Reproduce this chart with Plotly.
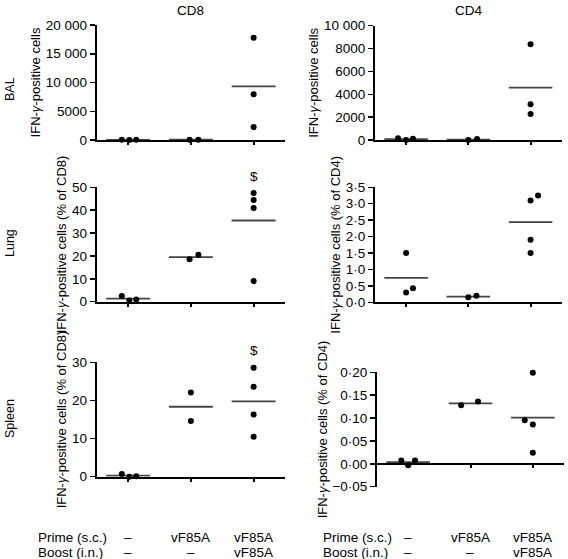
import numpy as np
import plotly.graph_objects as go

# ---------------- data ----------------
columns = ["CD8", "CD4"]
rows = ["BAL", "Lung", "Spleen"]
prime_labels = ["–", "vF85A", "vF85A"]
boost_labels = ["–", "–", "vF85A"]

bal_cd8 = [[60, 0, 50], [40, 60], [17800, 7950, 2250]]
bal_cd4 = [[150, 0, 100], [0, 80], [8370, 3120, 2270]]
lung_cd8 = [[2.5, 0.5, 1.0], [18.5, 20.5], [47.5, 44.5, 41.0, 9.0]]
lung_cd4 = [[1.5, 0.3, 0.43], [0.15, 0.2], [3.25, 3.1, 1.9, 1.5]]
spleen_cd8 = [[0.7, 0.0, 0.1], [22.1, 14.6], [28.6, 23.6, 16.3, 10.5]]
spleen_cd4 = [[0.007, -0.003, 0.007], [0.128, 0.136], [0.199, 0.095, 0.086, 0.024]]

ticks_bal_cd8 = [0, 5000, 10000, 15000, 20000]
ticktext_bal_cd8 = ["0", "5000", "10 000", "15 000", "20 000"]
ticks_bal_cd4 = [0, 2000, 4000, 6000, 8000, 10000]
ticktext_bal_cd4 = ["0", "2000", "4000", "6000", "8000", "10 000"]
ticks_lung_cd8 = [0, 10, 20, 30, 40, 50]
ticktext_lung_cd8 = ["0", "10", "20", "30", "40", "50"]
ticks_lung_cd4 = [0, 0.5, 1.0, 1.5, 2.0, 2.5, 3.0, 3.5]
ticktext_lung_cd4 = ["0·0", "0·5", "1·0", "1·5", "2·0", "2·5", "3·0", "3·5"]
ticks_spleen_cd8 = [0, 10, 20, 30]
ticktext_spleen_cd8 = ["0", "10", "20", "30"]
ticks_spleen_cd4 = [-0.05, 0, 0.05, 0.10, 0.15, 0.20]
ticktext_spleen_cd4 = ["−0·05", "0·00", "0·05", "0·10", "0·15", "0·20"]

ytitle_bal = "IFN-<i>γ</i>-positive cells"
ytitle_cd8 = "IFN-<i>γ</i>-positive cells (% of CD8)"
ytitle_cd4 = "IFN-<i>γ</i>-positive cells (% of CD4)"
significance_mark = "&#36;"  # "$" (entity avoids LaTeX detection)

# ---------------- style / layout ----------------
W, H = 568, 559
FONT = "Arial, Liberation Sans, Helvetica, sans-serif"
FS = 13.5

def dom_x(a, b):
    return [a / W, b / W]

def dom_y(top, bottom):
    return [1 - bottom / H, 1 - top / H]

panels = [
    dict(data=bal_cd8, xd=(96.7, 285), yd=(25, 140), yr=[0, 20000],
         tv=ticks_bal_cd8, tt=ticktext_bal_cd8, title=ytitle_bal,
         jit=[[-0.1, 0.02, 0.13], [-0.02, 0.12], [0, 0, 0]], mark=False),
    dict(data=bal_cd4, xd=(375, 561.7), yd=(25.7, 140), yr=[0, 10000],
         tv=ticks_bal_cd4, tt=ticktext_bal_cd4, title=ytitle_bal,
         jit=[[-0.13, 0, 0.11], [0, 0.14], [0, 0, 0]], mark=False),
    dict(data=lung_cd8, xd=(96.7, 285), yd=(187.3, 301.7), yr=[0, 50],
         tv=ticks_lung_cd8, tt=ticktext_lung_cd8, title=ytitle_cd8,
         jit=[[-0.1, 0.02, 0.13], [-0.02, 0.12], [0, 0, 0, 0]], mark=True),
    dict(data=lung_cd4, xd=(375, 561.7), yd=(187.3, 302.3), yr=[0, 3.5],
         tv=ticks_lung_cd4, tt=ticktext_lung_cd4, title=ytitle_cd4,
         jit=[[0, 0, 0.11], [0, 0.13], [0.12, 0, 0, 0]], mark=False),
    dict(data=spleen_cd8, xd=(96.7, 285), yd=(362.3, 476.7), yr=[0, 30],
         tv=ticks_spleen_cd8, tt=ticktext_spleen_cd8, title=ytitle_cd8,
         jit=[[-0.1, 0.02, 0.13], [0, 0], [0, 0, 0, 0]], mark=True),
    dict(data=spleen_cd4, xd=(377, 564), yd=(372.3, 486.7), yr=[-0.05, 0.20],
         tv=ticks_spleen_cd4, tt=ticktext_spleen_cd4, title=ytitle_cd4,
         jit=[[-0.11, 0, 0.11], [-0.15, 0.12], [0, -0.13, 0, 0]], mark=False),
]

fig = go.Figure()
annotations = []
MEAN_HALF = 0.35

for i, p in enumerate(panels):
    n = i + 1
    xa = "x" if n == 1 else f"x{n}"
    ya = "y" if n == 1 else f"y{n}"
    for g, vals in enumerate(p["data"]):
        xs = [g + j for j in p["jit"][g]]
        m = float(np.mean(vals))
        fig.add_trace(go.Scatter(
            x=[g - MEAN_HALF, g + MEAN_HALF], y=[m, m], mode="lines",
            line=dict(color="#444444", width=1.8), xaxis=xa, yaxis=ya,
            showlegend=False, hoverinfo="skip", cliponaxis=False))
        fig.add_trace(go.Scatter(
            x=xs, y=vals, mode="markers",
            marker=dict(color="black", size=6), xaxis=xa, yaxis=ya,
            showlegend=False, cliponaxis=False))
    if p["mark"]:
        annotations.append(dict(
            x=2, y=max(p["data"][2]), xref=xa, yref=ya, text=significance_mark,
            showarrow=False, yshift=17, font=dict(family=FONT, size=FS, color="black")))

    xdom = dom_x(*p["xd"])
    ydom = dom_y(*p["yd"])
    xkey = "xaxis" if n == 1 else f"xaxis{n}"
    ykey = "yaxis" if n == 1 else f"yaxis{n}"
    xaxis = dict(domain=xdom, range=[-0.5, 2.5], showgrid=False, zeroline=False,
                 showline=True, linecolor="black", linewidth=2, automargin=False,
                 tickvals=[0, 1, 2], ticks="outside", ticklen=3, tickwidth=2,
                 tickcolor="black", showticklabels=False, fixedrange=True)
    lo, hi = p["yr"]
    if lo < 0:
        xaxis.update(anchor="free",
                     position=ydom[0] + (0 - lo) / (hi - lo) * (ydom[1] - ydom[0]))
    else:
        xaxis.update(anchor=ya)
    yaxis = dict(domain=ydom, range=p["yr"], anchor=xa, showgrid=False, zeroline=False,
                 showline=True, linecolor="black", linewidth=2, automargin=False,
                 tickvals=p["tv"], ticktext=p["tt"], ticks="outside", ticklen=5,
                 tickwidth=1.5, tickcolor="black",
                 tickfont=dict(family=FONT, size=FS, color="black"),
                 title=dict(text=p["title"], font=dict(family=FONT, size=FS - 0.5, color="black"),
                            standoff=2),
                 fixedrange=True)
    fig.update_layout({xkey: xaxis, ykey: yaxis})

# column titles
for c, name in enumerate(columns):
    xa = "x" if c == 0 else "x2"
    annotations.append(dict(x=1, y=1 - 10 / H, xref=xa, yref="paper", text=name,
                            showarrow=False, yanchor="middle",
                            font=dict(family=FONT, size=FS, color="black")))
# row labels
row_centers = [89, 243, 419]
for r, name in enumerate(rows):
    annotations.append(dict(x=10 / W, y=1 - row_centers[r] / H, xref="paper", yref="paper",
                            text=name, textangle=-90, showarrow=False,
                            xanchor="center", yanchor="middle",
                            font=dict(family=FONT, size=FS - 1, color="black")))
# treatment labels
for xa, lx in (("x5", 36), ("x6", 321)):
    annotations.append(dict(x=lx / W, y=1 - 537 / H, xref="paper", yref="paper",
                            text="Prime (s.c.)", showarrow=False, xanchor="left",
                            yanchor="middle", font=dict(family=FONT, size=FS, color="black")))
    annotations.append(dict(x=lx / W, y=1 - 552 / H, xref="paper", yref="paper",
                            text="Boost (i.n.)", showarrow=False, xanchor="left",
                            yanchor="middle", font=dict(family=FONT, size=FS, color="black")))
    for g in range(3):
        annotations.append(dict(x=g, y=1 - 537 / H, xref=xa, yref="paper",
                                text=prime_labels[g], showarrow=False, yanchor="middle",
                                font=dict(family=FONT, size=FS, color="black")))
        annotations.append(dict(x=g, y=1 - 552 / H, xref=xa, yref="paper",
                                text=boost_labels[g], showarrow=False, yanchor="middle",
                                font=dict(family=FONT, size=FS, color="black")))

fig.update_layout(
    width=W, height=H, margin=dict(l=0, r=0, t=0, b=0, pad=0, autoexpand=False),
    paper_bgcolor="white", plot_bgcolor="white",
    annotations=annotations, showlegend=False, hovermode=False,
    font=dict(family=FONT, color="black"),
)

fig.write_html("out.html", config={"displayModeBar": False, "staticPlot": True},
               post_script="document.body.style.margin='0px';document.body.style.overflow='hidden';")
